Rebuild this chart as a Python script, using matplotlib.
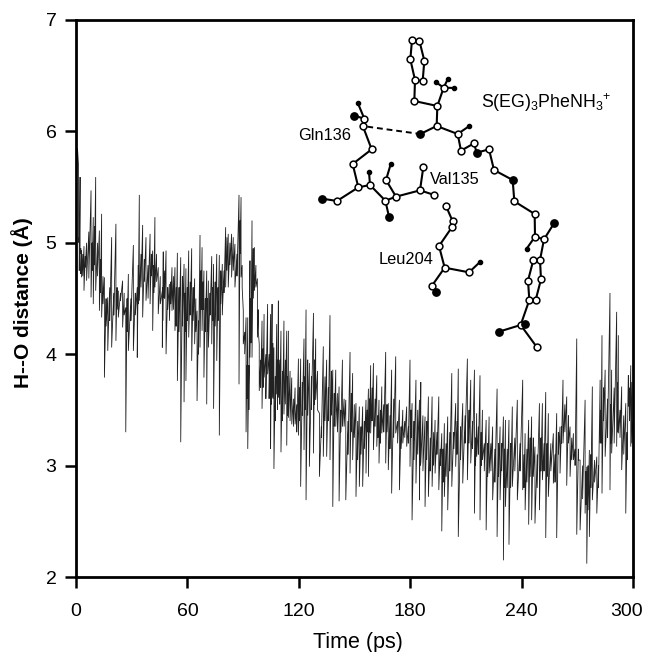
import numpy as np
import matplotlib
matplotlib.use("Agg")
import matplotlib.pyplot as plt
from matplotlib.transforms import ScaledTranslation

plt.rcParams["font.family"] = ["Liberation Sans", "DejaVu Sans"]
plt.rcParams["mathtext.fontset"] = "custom"
plt.rcParams["mathtext.rm"] = "Liberation Sans"

# spike times (ps) with the top and bottom of each spike
spike_time = [1.3, 2.2, 3, 4.3, 5.7, 8.1, 9.3, 10.6, 12.6, 13.8, 15.3, 17.1, 19.2, 21.5, 22.8, 25.1, 26.8, 28.2,
              30.9, 33, 34.1, 35.9, 37.7, 39.9, 41.3, 42.5, 44.3, 46.5, 47, 48.5, 50.3, 51.7, 53.3, 54.6, 56.4,
              58.2, 59.2, 60.7, 62.3, 63.9, 65.2, 66.8, 67.9, 68.9, 70.4, 71.3, 73.1, 74.1, 75.8, 77.2, 78.8,
              80.6, 82, 83.8, 85.6, 87.8, 88.9, 90.1, 91.6, 92.5, 93.7, 94.8, 96.1, 97.7, 98.7, 100.2, 101.3,
              103.2, 104.8, 105.6, 106.6, 108.1, 109, 110.4, 112, 113.5, 114.4, 116.2, 118, 119.8,
              121, 122.8, 123.9, 125.7, 127.9, 129.1, 131.1, 133.2, 135, 136.8, 138.3, 139.9, 141.7, 143.5,
              145.3, 147.6, 149, 150.8, 152.6, 154.4, 156.2, 157.5, 158.7, 160.2, 162, 163.2, 164.7, 166.8,
              168.2, 170, 172.2, 174.2, 176, 178.1, 179.9, 181, 183.1, 185, 185.7, 188, 189.8, 191.8, 193.4,
              195.4, 197, 198.4, 200.2, 202.4, 204.5, 205.9, 208.3, 210.8, 212.6, 214.6, 215.8, 217.6, 218.9,
              220.9, 222.5, 224.4, 226.8, 228.4, 230.2, 231.3, 233.2, 235, 237.7, 240.6, 241.9, 243.8, 245.4,
              247.2, 249.6, 251.2, 253, 254.4, 257.1, 258.9, 260.7, 262.3, 264.3, 266.1, 267.9, 269.7, 271.5,
              274.2, 275.1, 276.5, 278.1, 280.5, 282.3, 283.3, 285, 287.6, 288.5, 291.2, 292.1, 293.9, 296.1,
              297.5, 298.8]
spike_top = [5.71, 5.59, 4.93, 4.97, 5.0, 5.47, 5.23, 5.59, 5.11, 5.26, 4.69, 4.51, 5.05, 5.17, 4.57, 4.66, 4.42, 4.72,
             4.98, 4.60, 5.43, 5.16, 5.05, 5.08, 4.93, 5.23, 4.78, 4.57, 4.92, 4.93, 4.63, 4.78, 4.78, 4.91, 4.87,
             4.81, 4.77, 4.93, 4.95, 4.68, 4.39, 5.07, 4.96, 4.75, 4.75, 4.66, 4.88, 4.81, 4.90, 4.89, 4.81,
             5.14, 5.08, 5.08, 4.99, 5.43, 5.41, 4.39, 4.33, 4.33, 4.84, 5.20, 4.96, 4.68, 4.09, 4.30, 4.36,
             4.45, 4.36, 4.45, 4.06, 4.27, 4.48, 4.21, 4.30, 4.21, 4.21, 3.79, 3.70, 3.96,
             3.96, 4.14, 4.40, 3.92, 4.37, 4.14, 3.47, 4.07, 3.95, 4.35, 3.86, 3.86, 3.71, 3.95,
             3.59, 4.02, 3.83, 3.56, 3.53, 3.53, 3.59, 3.69, 3.90, 3.92, 3.81, 3.59, 3.71, 4.02,
             3.56, 3.86, 3.98, 3.59, 3.50, 3.53, 3.95, 3.56, 3.77, 3.59, 3.75, 3.44, 3.62, 3.62, 3.41,
             3.62, 3.29, 3.38, 3.44, 3.83, 3.56, 3.87, 3.56, 3.96, 3.77, 3.86, 3.47, 3.81, 3.50,
             3.41, 3.44, 3.35, 3.69, 3.35, 3.44, 3.41, 3.41, 3.53, 3.59, 3.77, 3.29, 3.41, 3.44,
             3.17, 3.56, 3.56, 3.66, 3.47, 3.29, 3.47, 3.35, 3.77, 3.62, 3.35, 3.29, 4.14, 3.05,
             3.59, 2.99, 3.14, 3.71, 3.08, 3.77, 4.17, 3.86, 4.55, 3.86, 4.38, 4.17, 3.71, 3.56,
             3.81, 3.90]
spike_low = [5.0, 4.9, 4.69, 4.57, 4.66, 4.51, 4.45, 4.57, 4.39, 4.33, 3.79, 4.03, 4.06, 4.12, 4.33, 4.24, 3.30, 4.03,
             4.03, 3.97, 4.48, 4.33, 4.48, 4.45, 4.21, 4.60, 4.36, 4.06, 4.51, 4.0, 4.30, 4.39, 4.21, 3.76, 3.21,
             3.57, 3.76, 4.15, 3.94, 4.09, 3.58, 4.06, 4.21, 3.79, 3.55, 4.06, 4.09, 3.51, 3.94, 3.27, 4.35,
             4.60, 4.60, 4.69, 4.60, 3.73, 4.69, 4.09, 3.30, 3.15, 3.97, 3.97, 4.57, 4.15, 3.67, 3.51, 3.79,
             3.82, 3.15, 3.61, 2.97, 3.64, 3.61, 3.12, 3.46, 3.18, 3.43, 3.37, 3.37, 3.27,
             2.81, 3.14, 2.69, 2.99, 3.11, 3.59, 2.90, 3.08, 3.08, 3.05, 2.63, 3.35, 2.68, 3.35,
             2.69, 2.93, 3.05, 2.72, 2.81, 2.81, 2.93, 2.90, 3.29, 3.14, 3.17, 3.02, 3.29, 3.02,
             2.96, 2.75, 3.29, 2.78, 3.20, 3.17, 2.99, 2.51, 2.84, 2.69, 3.02, 2.63, 2.72, 2.81, 2.93,
             2.78, 2.41, 2.72, 2.60, 2.81, 2.99, 2.36, 2.84, 2.87, 3.02, 2.57, 3.08, 2.51, 3.05,
             2.42, 2.93, 2.69, 2.36, 2.69, 2.15, 2.63, 2.29, 2.81, 2.69, 2.78, 2.60, 2.47, 2.51,
             2.48, 2.60, 2.87, 2.35, 2.72, 2.84, 2.35, 2.93, 3.20, 2.82, 2.90, 3.05, 2.38, 2.42,
             2.57, 2.12, 2.36, 2.69, 2.57, 3.20, 2.75, 3.08, 2.78, 3.11, 3.17, 3.29, 2.96, 2.57,
             3.53, 3.17]
# the dark band between spikes, one top and bottom per gap
core_top = [5.05, 4.95, 4.9, 4.88, 5.1, 5.0, 5.15, 5.0, 4.85, 4.7, 4.5, 4.6, 4.55, 4.6, 4.55, 4.55, 4.5, 4.5,
            4.55, 4.8, 4.9, 4.85, 4.8, 4.9, 4.8, 4.9, 4.7, 4.6, 4.75, 4.6, 4.65, 4.7, 4.6, 4.6, 4.7,
            4.55, 4.6, 4.65, 4.6, 4.5, 4.3, 4.75, 4.65, 4.5, 4.5, 4.55, 4.6, 4.65, 4.6, 4.75, 4.75,
            5.05, 5.0, 5.05, 4.9, 5.2, 4.8, 4.2, 3.9, 3.9, 4.5, 4.95, 4.8, 4.4, 3.95, 4.05, 4.0,
            4.0, 4.0, 4.1, 3.8, 3.95, 3.95, 3.85, 3.95, 3.8, 3.85, 3.6, 3.55, 3.7,
            3.75, 3.8, 3.95, 3.8, 3.95, 3.85, 3.35, 3.8, 3.7, 3.85, 3.65, 3.65, 3.5, 3.6,
            3.4, 3.65, 3.55, 3.4, 3.35, 3.4, 3.5, 3.6, 3.7, 3.6, 3.45, 3.5, 3.55, 3.55,
            3.45, 3.6, 3.4, 3.35, 3.4, 3.35, 3.5, 3.4, 3.5, 3.4, 3.45, 3.4, 3.25, 3.3, 3.3,
            3.15, 3.15, 3.2, 3.3, 3.3, 3.4, 3.35, 3.45, 3.5, 3.4, 3.25, 3.35, 3.3, 3.2,
            3.2, 3.2, 3.15, 3.2, 3.2, 3.15, 3.15, 3.2, 3.25, 3.2, 3.1, 3.15, 3.25, 3.25,
            3.1, 3.25, 3.2, 3.2, 3.2, 3.1, 3.3, 3.35, 3.55, 3.45, 3.25, 3.15, 3.15, 3.0,
            2.95, 3.0, 3.1, 3.05, 3.0, 3.5, 3.7, 3.6, 3.55, 3.7, 3.75, 3.5, 3.45, 3.3,
            3.7, 3.75]
core_low = [4.75, 4.72, 4.7, 4.78, 4.68, 4.75, 4.8, 4.7, 4.55, 4.45, 4.25, 4.3, 4.35, 4.4, 4.48, 4.35, 4.2, 4.3,
            4.35, 4.45, 4.6, 4.65, 4.5, 4.7, 4.55, 4.65, 4.45, 4.3, 4.5, 4.4, 4.45, 4.4, 4.25, 4.2, 4.25,
            4.2, 4.3, 4.35, 4.3, 4.2, 4.0, 4.4, 4.4, 4.2, 4.2, 4.35, 4.3, 4.25, 4.3, 4.45, 4.55,
            4.75, 4.8, 4.75, 4.7, 4.9, 4.6, 4.0, 3.6, 3.5, 4.1, 4.5, 4.6, 4.2, 3.7, 3.7, 3.6,
            3.6, 3.55, 3.6, 3.4, 3.5, 3.55, 3.4, 3.55, 3.45, 3.4, 3.35, 3.3, 3.4,
            3.45, 3.5, 3.45, 3.5, 3.55, 3.5, 3.25, 3.4, 3.4, 3.45, 3.35, 3.3, 3.3, 3.35,
            3.1, 3.3, 3.25, 3.05, 3.1, 3.15, 3.3, 3.3, 3.4, 3.35, 3.25, 3.2, 3.3, 3.3,
            3.15, 3.25, 3.2, 3.15, 3.25, 3.2, 3.25, 3.05, 3.1, 3.0, 2.95, 3.05, 2.95, 3.0, 3.1,
            3.0, 2.85, 2.9, 2.95, 3.15, 3.1, 3.05, 3.2, 3.2, 3.15, 3.0, 3.1, 3.0, 2.95,
            2.9, 2.95, 2.85, 2.9, 2.95, 2.8, 2.8, 2.8, 2.95, 2.95, 2.8, 2.85, 2.9, 2.9,
            2.8, 2.95, 2.95, 2.9, 2.95, 2.85, 3.1, 3.2, 3.3, 3.2, 3.05, 3.0, 3.05, 2.7,
            2.65, 2.6, 2.8, 2.85, 2.8, 3.2, 3.4, 3.25, 3.2, 3.2, 3.3, 3.25, 3.1, 3.05,
            3.4, 3.2]
start_time = [0, 0.4, 0.8]
start_distance = [6.2, 5.6, 5.85]
end_time = [300]
end_distance = [3.4]

x_ticks = [0, 60, 120, 180, 240, 300]
y_ticks = [2, 3, 4, 5, 6, 7]

# molecule sketch, traced in its own pixel frame
ring_a = [(396, 60), (418, 62), (433, 122), (428, 183), (405, 180), (391, 118), (396, 60)]
ring_b = [(780, 720), (783, 778), (767, 840), (748, 840), (744, 782), (760, 720), (780, 720)]
chains = [
    [(405, 180), (403, 243), (472, 258), (470, 318), (421, 342)],
    [(472, 258), (491, 203), (467, 186)],
    [(503, 178), (491, 203), (523, 204)],
    [(470, 318), (533, 342), (568, 318)],
    [(533, 342), (543, 392), (582, 370), (590, 398), (627, 388), (642, 450), (698, 480), (703, 544), (764, 582),
     (765, 650), (792, 658), (822, 610)],
    [(765, 650), (740, 686)],
    [(792, 658), (780, 720)],
    [(748, 840), (722, 915), (657, 935)],
    [(722, 915), (735, 912)],
    [(722, 915), (771, 982)],
    [(233, 248), (253, 296), (223, 287)],
    [(253, 296), (248, 317), (275, 388), (218, 432), (235, 502), (171, 543), (127, 536)],
    [(235, 502), (270, 495), (267, 456)],
    [(270, 495), (316, 542), (327, 590)],
    [(316, 542), (348, 530), (318, 480), (332, 433)],
    [(348, 530), (420, 511), (430, 441)],
    [(420, 511), (463, 525)],
    [(498, 558), (518, 604), (517, 620), (477, 678), (494, 743), (567, 757), (601, 725)],
    [(494, 743), (456, 797), (467, 816)],
]
h_bond = [(262, 320), (421, 342)]
open_atoms = [(396, 60), (418, 62), (433, 122), (428, 183), (405, 180), (391, 118), (403, 243), (472, 258),
              (470, 318), (491, 203), (533, 342), (543, 392), (582, 370), (627, 388), (642, 450), (703, 544),
              (764, 582), (765, 650), (792, 658), (780, 720), (783, 778), (767, 840), (748, 840), (744, 782),
              (760, 720), (722, 915), (771, 982), (253, 296), (248, 317), (275, 388), (218, 432), (235, 502),
              (171, 543), (270, 495), (316, 542), (348, 530), (318, 480), (420, 511), (430, 441), (463, 525),
              (498, 558), (518, 604), (517, 620), (477, 678), (494, 743), (567, 757), (456, 797)]
filled_atoms = [(421, 342), (590, 398), (698, 480), (822, 610), (657, 935), (735, 912), (223, 287), (127, 536),
                (327, 590), (467, 816)]
small_atoms = [(467, 186), (503, 178), (523, 204), (568, 318), (740, 686), (233, 248), (267, 456), (332, 433),
               (601, 725)]

# walk spike top, spike bottom, then the band halfway to the next spike
spike_t = np.array(spike_time)
gap_t = (spike_t + np.append(spike_t[1:], 300)) / 2
time = np.concatenate([start_time,
                       np.column_stack([spike_t, spike_t, gap_t, gap_t]).ravel(),
                       end_time])
distance = np.concatenate([start_distance,
                           np.column_stack([spike_top, spike_low, core_top, core_low]).ravel(),
                           end_distance])

fig = plt.figure(figsize=(6.46, 6.52), dpi=100)
ax = fig.add_axes([76 / 646, 1 - 577 / 652, 557 / 646, 557 / 652])
ax.plot(time, distance, color="#222222", lw=0.6, solid_joinstyle="miter")
ax.set_xlim(0, 300)
ax.set_ylim(2, 7)
ax.set_xticks(x_ticks)
ax.set_yticks(y_ticks)
ax.tick_params(length=8, width=1.8, labelsize=14)
ax.tick_params(axis="x", pad=11)
ax.tick_params(axis="y", pad=6)
for spine in ax.spines.values():
    spine.set_linewidth(2)
# the last tick label sits a little left of its tick, as in the figure margin
last_label = ax.get_xticklabels()[-1]
last_label.set_transform(last_label.get_transform() + ScaledTranslation(-6 / 100, 0, fig.dpi_scale_trans))
ax.set_xlabel("Time (ps)", fontsize=15.5, va="center")
ax.xaxis.set_label_coords(0.5054, -0.118)
ax.set_ylabel("H--O distance (Å)", fontsize=15, fontweight="bold", va="center")
ax.yaxis.set_label_coords(-0.097, 0.492)

mol = fig.add_axes([280 / 646, 1 - 360 / 652, 320 / 646, 340 / 652], facecolor="none")
mol.set_xlim(0, 960)
mol.set_ylim(1020, 0)
mol.axis("off")
for chain in chains + [ring_a, ring_b]:
    xs, ys = zip(*chain)
    mol.plot(xs, ys, color="black", lw=1.5, zorder=2)
xs, ys = zip(*h_bond)
mol.plot(xs, ys, color="black", lw=1.4, ls=(0, (3, 2)), zorder=2)
xs, ys = zip(*open_atoms)
mol.scatter(xs, ys, s=24, facecolor="white", edgecolor="black", linewidth=1.1, zorder=3)
xs, ys = zip(*filled_atoms)
mol.scatter(xs, ys, s=28, color="black", zorder=3)
xs, ys = zip(*small_atoms)
mol.scatter(xs, ys, s=9, color="black", zorder=3)

for label, x, y in [("Gln136", 298, 135), ("Val135", 430, 179), ("Leu204", 379, 260)]:
    fig.text(x / 646, 1 - y / 652, label, fontsize=11.8, va="center", ha="left")
fig.text(481 / 646, 1 - 103 / 652, r"S(EG)$_{\mathrm{3}}$PheNH$_{\mathrm{3}}$$^{+}$", fontsize=12.8, va="center", ha="left")

fig.savefig("out.png", dpi=100)
